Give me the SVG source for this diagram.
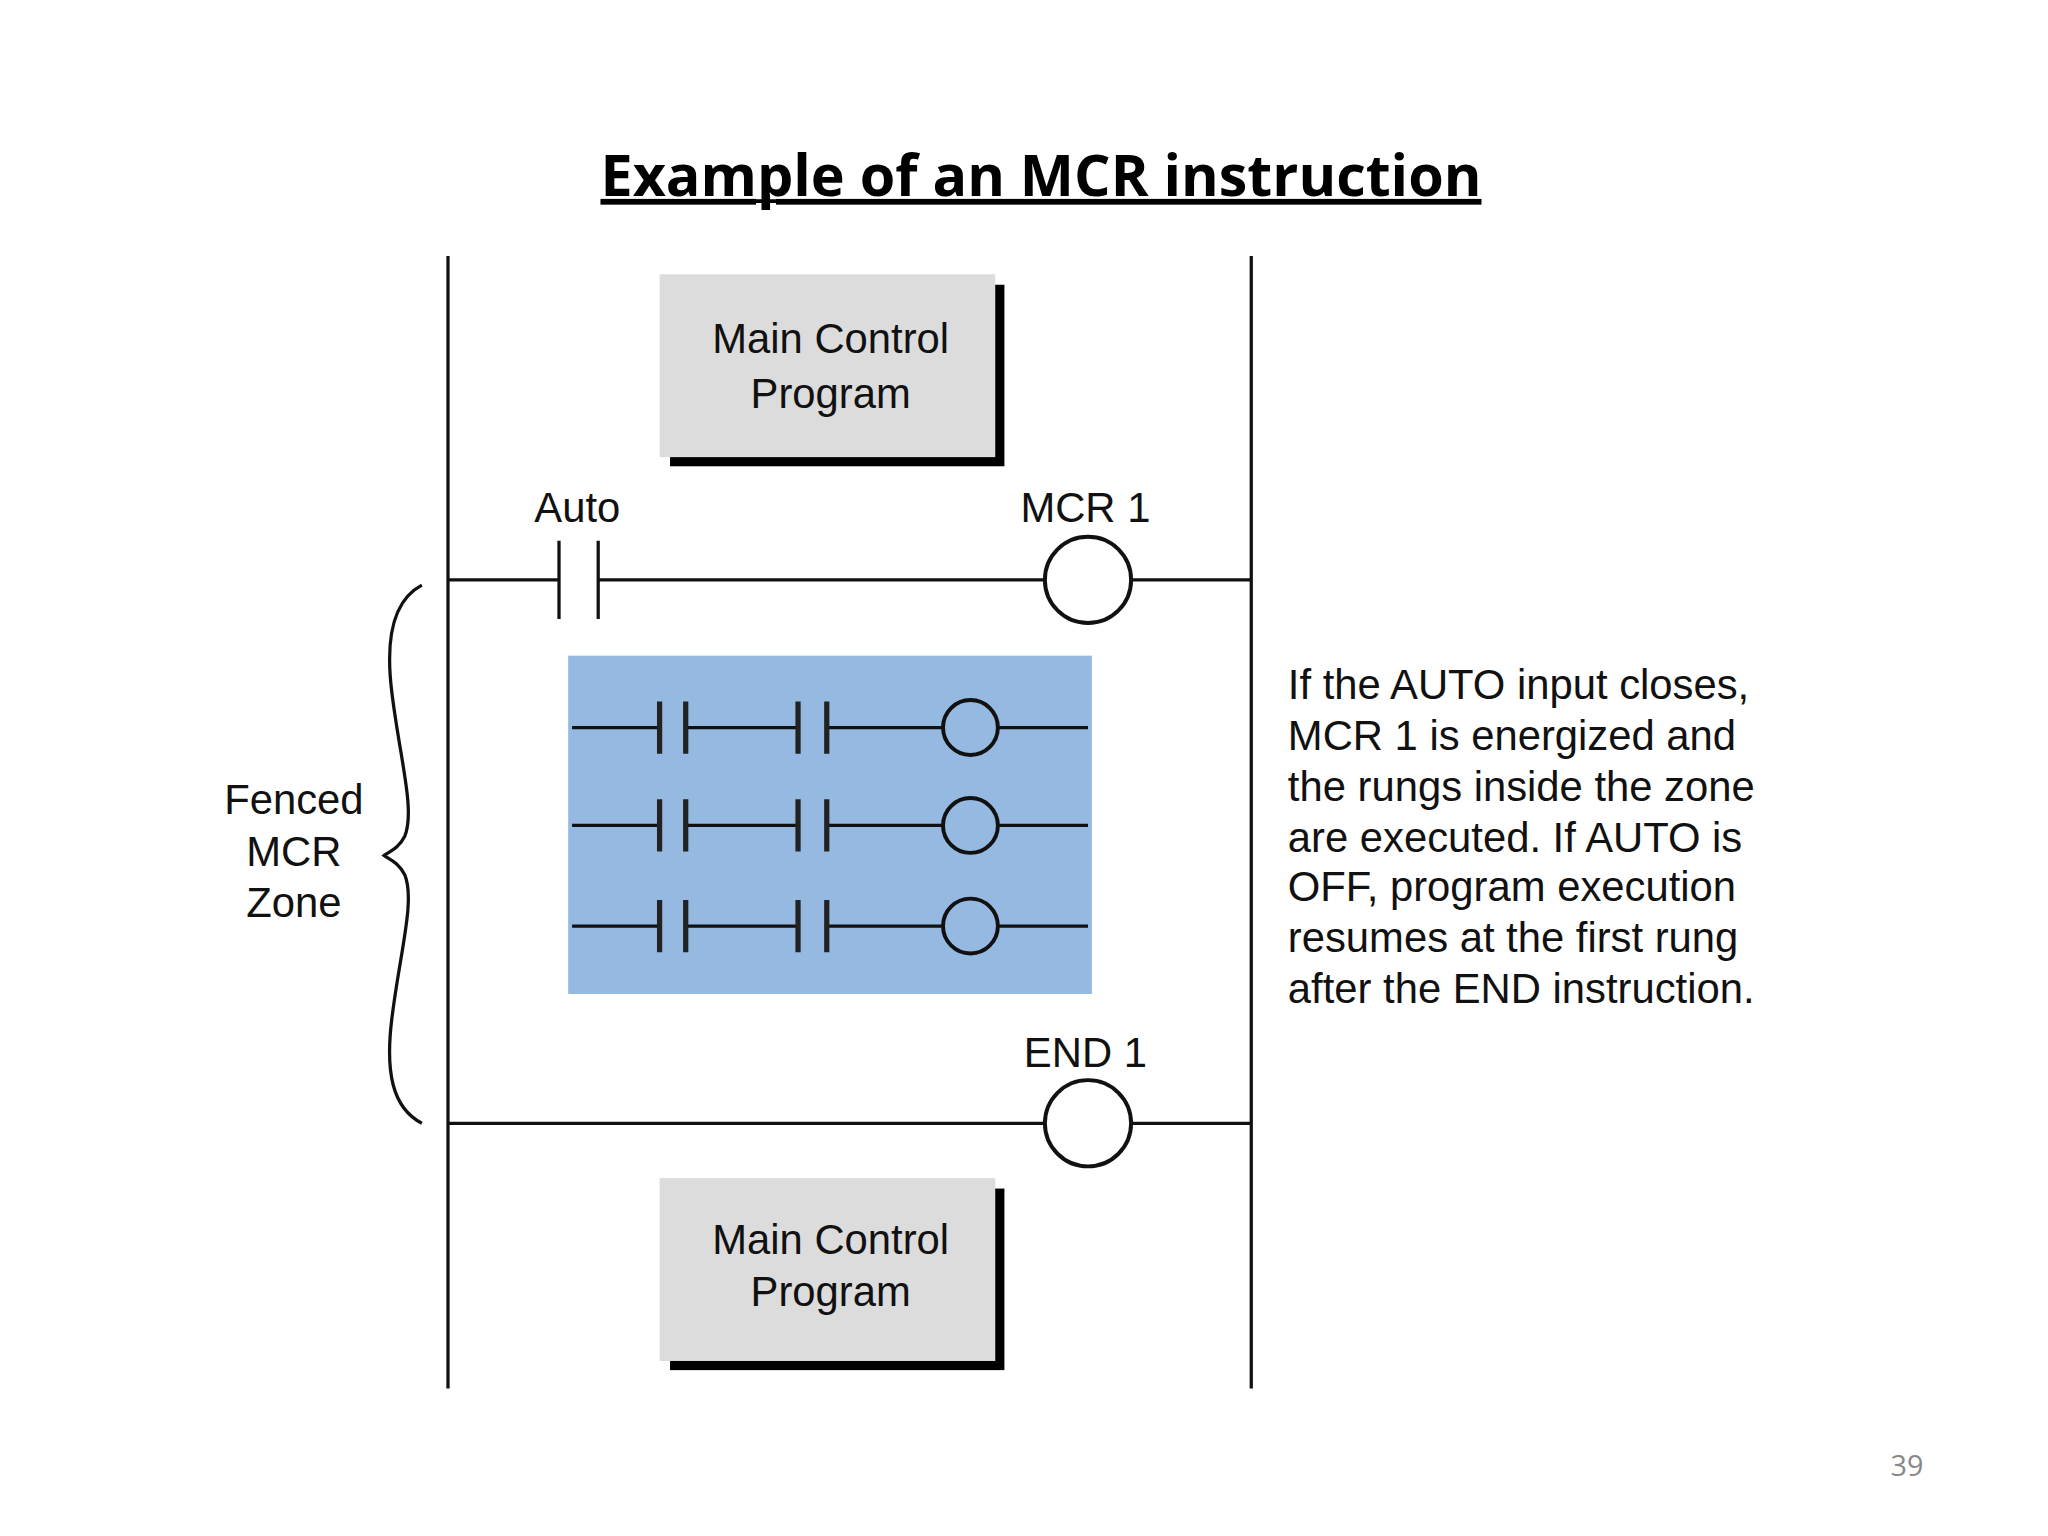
<svg xmlns="http://www.w3.org/2000/svg" width="2048" height="1536" viewBox="0 0 2048 1536">
<style>
.t{font-family:"Liberation Sans",Arial,sans-serif;font-size:32px;fill:#111}
.w{stroke:#111;stroke-width:2.5;fill:none}
.c{stroke:#111;stroke-width:3;fill:#fff}
.k{stroke:#222;stroke-width:4}
.box{fill:#dcdcdc}
.sh{fill:#000}
</style>
<rect width="2048" height="1536" fill="#fff"/>
<g transform="scale(1.30612)">
<g id="title"><text x="797" y="150" text-anchor="middle" style="font-family:'Open Sans',sans-serif;font-weight:bold;font-size:44px" fill="#000" text-decoration="underline">Example of an MCR instruction</text>
<line x1="465" y1="154" x2="1130" y2="154" stroke="#000" stroke-width="3"/></g>
<g id="connectors">
<line class="w" x1="343" y1="196" x2="343" y2="1063"/>
<line class="w" x1="958" y1="196" x2="958" y2="1063"/>
<path class="w" d="M343 444H428M458 444H800M866 444H958M428 414V474M458 414V474"/>
<path class="w" d="M343 860H800M866 860H958"/>
</g>
<g id="box1"><rect class="sh" x="513" y="218" width="256" height="139"/><rect class="box" x="505" y="210" width="257" height="140"/>
<text class="t" x="636" y="270" text-anchor="middle">Main Control</text><text class="t" x="636" y="312" text-anchor="middle">Program</text></g>
<g id="auto"><text class="t" x="442" y="400" text-anchor="middle">Auto</text></g>
<g id="mcr1"><circle class="c" cx="833" cy="444" r="33"/><text class="t" x="831" y="400" text-anchor="middle">MCR 1</text></g>
<g id="zone"><rect x="435" y="502" width="401" height="259" fill="#95b9e0"/>
<g id="r1"><path class="w" d="M438 557H505M525 557H611M633 557H722M764 557H833"/><path class="k" d="M505 537V577M525 537V577M611 537V577M633 537V577"/><circle class="c" cx="743" cy="557" r="21" fill="none" style="fill:none"/></g>
<g id="r2"><path class="w" d="M438 632H505M525 632H611M633 632H722M764 632H833"/><path class="k" d="M505 612V652M525 612V652M611 612V652M633 612V652"/><circle class="c" cx="743" cy="632" r="21" style="fill:none"/></g>
<g id="r3"><path class="w" d="M438 709H505M525 709H611M633 709H722M764 709H833"/><path class="k" d="M505 689V729M525 689V729M611 689V729M633 689V729"/><circle class="c" cx="743" cy="709" r="21" style="fill:none"/></g>
</g>
<g id="end1"><circle class="c" cx="833" cy="860" r="33"/><text class="t" x="831" y="817" text-anchor="middle">END 1</text></g>
<g id="box2"><rect class="sh" x="513" y="910" width="256" height="139"/><rect class="box" x="505" y="902" width="257" height="140"/>
<text class="t" x="636" y="960" text-anchor="middle">Main Control</text><text class="t" x="636" y="1000" text-anchor="middle">Program</text></g>
<g id="brace"><path class="w" d="M323 448C300 460 295 490 300 530C306 580 318 620 310 640C305 650 298 652 294 655C298 658 305 660 310 670C318 690 306 730 300 780C295 820 300 848 323 860"/>
<text class="t" x="225" y="623" text-anchor="middle">Fenced</text><text class="t" x="225" y="663" text-anchor="middle">MCR</text><text class="t" x="225" y="702" text-anchor="middle">Zone</text></g>
<g id="note">
<text class="t" x="986" y="535">If the AUTO input closes,</text>
<text class="t" x="986" y="574">MCR 1 is energized and</text>
<text class="t" x="986" y="613">the rungs inside the zone</text>
<text class="t" x="986" y="652">are executed. If AUTO is</text>
<text class="t" x="986" y="690">OFF, program execution</text>
<text class="t" x="986" y="729">resumes at the first rung</text>
<text class="t" x="986" y="768">after the END instruction.</text>
</g>
<text x="1460" y="1130" text-anchor="middle" style="font-family:'Open Sans',sans-serif;font-size:22px" fill="#888">39</text>
</g>
</svg>
